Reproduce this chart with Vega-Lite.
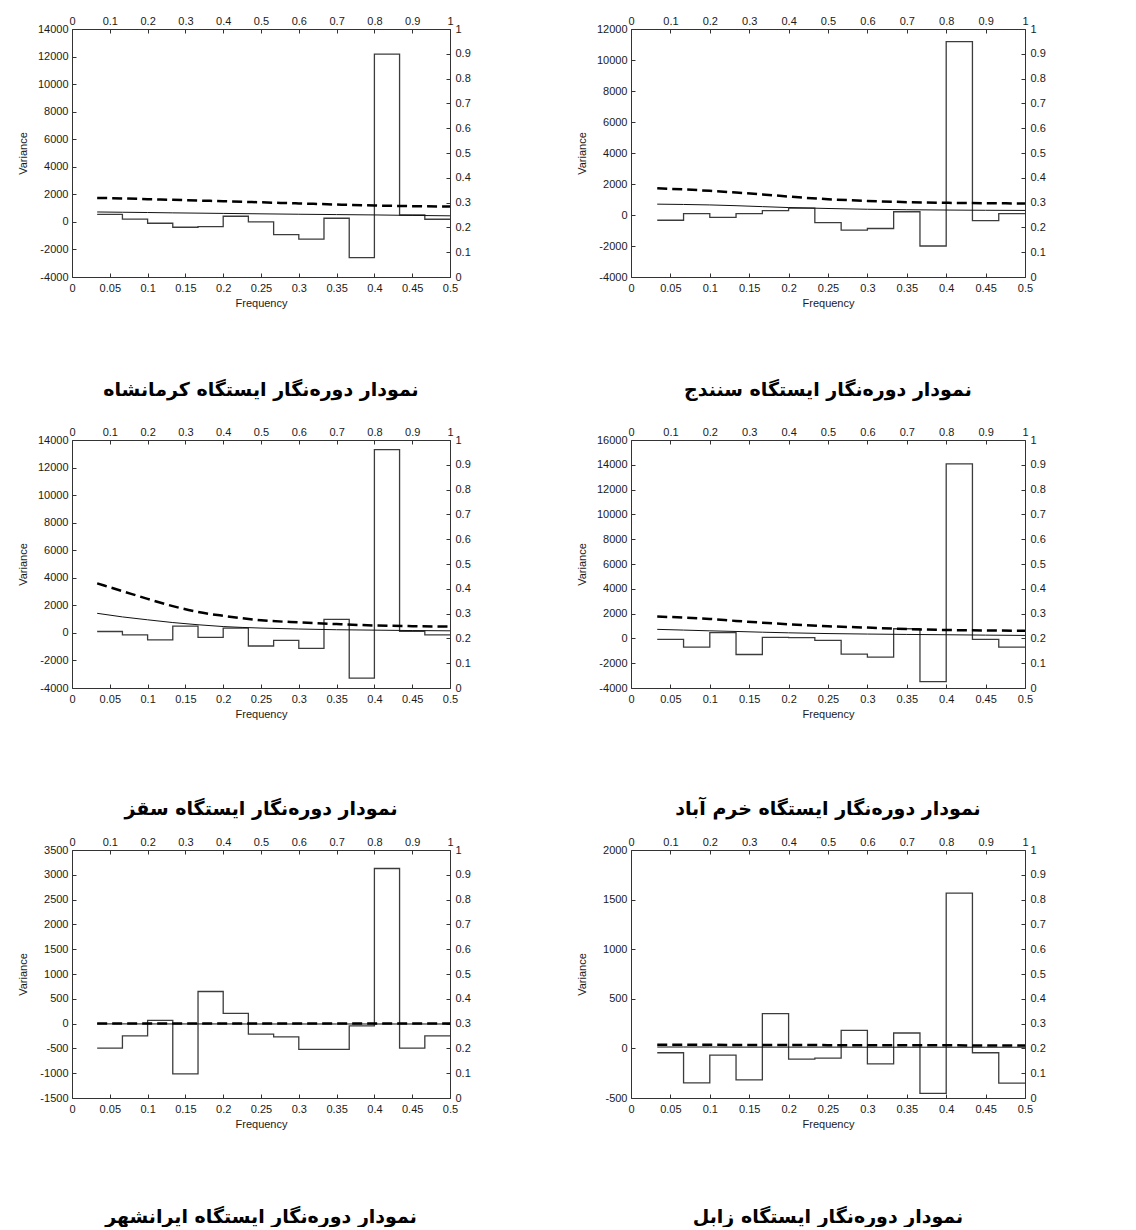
{
  "$schema": "https://vega.github.io/schema/vega-lite/v6.json",
  "background": "white",
  "padding": {"left": 17, "top": 15, "right": 0, "bottom": 0},
  "datasets": {
    "unit": [{"t": 0}, {"t": 1}],
    "periodogram": [
      {"station": "Kermanshah", "f": 0.0333, "v": 540},
      {"station": "Kermanshah", "f": 0.0667, "v": 200},
      {"station": "Kermanshah", "f": 0.1, "v": -100},
      {"station": "Kermanshah", "f": 0.1333, "v": -390},
      {"station": "Kermanshah", "f": 0.1667, "v": -340},
      {"station": "Kermanshah", "f": 0.2, "v": 410},
      {"station": "Kermanshah", "f": 0.2333, "v": 0},
      {"station": "Kermanshah", "f": 0.2667, "v": -920},
      {"station": "Kermanshah", "f": 0.3, "v": -1250},
      {"station": "Kermanshah", "f": 0.3333, "v": 265},
      {"station": "Kermanshah", "f": 0.3667, "v": -2600},
      {"station": "Kermanshah", "f": 0.4, "v": 12170},
      {"station": "Kermanshah", "f": 0.4333, "v": 500},
      {"station": "Kermanshah", "f": 0.4667, "v": 190},
      {"station": "Kermanshah", "f": 0.5, "v": 190},
      {"station": "Sanandaj", "f": 0.0333, "v": -340},
      {"station": "Sanandaj", "f": 0.0667, "v": 85},
      {"station": "Sanandaj", "f": 0.1, "v": -150},
      {"station": "Sanandaj", "f": 0.1333, "v": 85},
      {"station": "Sanandaj", "f": 0.1667, "v": 280},
      {"station": "Sanandaj", "f": 0.2, "v": 450},
      {"station": "Sanandaj", "f": 0.2333, "v": -490},
      {"station": "Sanandaj", "f": 0.2667, "v": -980},
      {"station": "Sanandaj", "f": 0.3, "v": -870},
      {"station": "Sanandaj", "f": 0.3333, "v": 210},
      {"station": "Sanandaj", "f": 0.3667, "v": -2000},
      {"station": "Sanandaj", "f": 0.4, "v": 11180},
      {"station": "Sanandaj", "f": 0.4333, "v": -360},
      {"station": "Sanandaj", "f": 0.4667, "v": 85},
      {"station": "Sanandaj", "f": 0.5, "v": 85},
      {"station": "Saqqez", "f": 0.0333, "v": 100},
      {"station": "Saqqez", "f": 0.0667, "v": -150},
      {"station": "Saqqez", "f": 0.1, "v": -510},
      {"station": "Saqqez", "f": 0.1333, "v": 490},
      {"station": "Saqqez", "f": 0.1667, "v": -320},
      {"station": "Saqqez", "f": 0.2, "v": 340},
      {"station": "Saqqez", "f": 0.2333, "v": -950},
      {"station": "Saqqez", "f": 0.2667, "v": -540},
      {"station": "Saqqez", "f": 0.3, "v": -1120},
      {"station": "Saqqez", "f": 0.3333, "v": 980},
      {"station": "Saqqez", "f": 0.3667, "v": -3290},
      {"station": "Saqqez", "f": 0.4, "v": 13300},
      {"station": "Saqqez", "f": 0.4333, "v": 120},
      {"station": "Saqqez", "f": 0.4667, "v": -150},
      {"station": "Saqqez", "f": 0.5, "v": -150},
      {"station": "Khorramabad", "f": 0.0333, "v": -80},
      {"station": "Khorramabad", "f": 0.0667, "v": -700},
      {"station": "Khorramabad", "f": 0.1, "v": 460},
      {"station": "Khorramabad", "f": 0.1333, "v": -1300},
      {"station": "Khorramabad", "f": 0.1667, "v": 80},
      {"station": "Khorramabad", "f": 0.2, "v": 55},
      {"station": "Khorramabad", "f": 0.2333, "v": -160},
      {"station": "Khorramabad", "f": 0.2667, "v": -1270},
      {"station": "Khorramabad", "f": 0.3, "v": -1510},
      {"station": "Khorramabad", "f": 0.3333, "v": 780},
      {"station": "Khorramabad", "f": 0.3667, "v": -3480},
      {"station": "Khorramabad", "f": 0.4, "v": 14070},
      {"station": "Khorramabad", "f": 0.4333, "v": -80},
      {"station": "Khorramabad", "f": 0.4667, "v": -700},
      {"station": "Khorramabad", "f": 0.5, "v": -700},
      {"station": "Iranshahr", "f": 0.0333, "v": -495},
      {"station": "Iranshahr", "f": 0.0667, "v": -247},
      {"station": "Iranshahr", "f": 0.1, "v": 67},
      {"station": "Iranshahr", "f": 0.1333, "v": -1015},
      {"station": "Iranshahr", "f": 0.1667, "v": 647},
      {"station": "Iranshahr", "f": 0.2, "v": 207},
      {"station": "Iranshahr", "f": 0.2333, "v": -213},
      {"station": "Iranshahr", "f": 0.2667, "v": -267},
      {"station": "Iranshahr", "f": 0.3, "v": -520},
      {"station": "Iranshahr", "f": 0.3333, "v": -520},
      {"station": "Iranshahr", "f": 0.3667, "v": -45},
      {"station": "Iranshahr", "f": 0.4, "v": 3127},
      {"station": "Iranshahr", "f": 0.4333, "v": -495},
      {"station": "Iranshahr", "f": 0.4667, "v": -247},
      {"station": "Iranshahr", "f": 0.5, "v": -247},
      {"station": "Zabol", "f": 0.0333, "v": -44},
      {"station": "Zabol", "f": 0.0667, "v": -348},
      {"station": "Zabol", "f": 0.1, "v": -68},
      {"station": "Zabol", "f": 0.1333, "v": -318},
      {"station": "Zabol", "f": 0.1667, "v": 351},
      {"station": "Zabol", "f": 0.2, "v": -108},
      {"station": "Zabol", "f": 0.2333, "v": -98},
      {"station": "Zabol", "f": 0.2667, "v": 182},
      {"station": "Zabol", "f": 0.3, "v": -155},
      {"station": "Zabol", "f": 0.3333, "v": 155},
      {"station": "Zabol", "f": 0.3667, "v": -453},
      {"station": "Zabol", "f": 0.4, "v": 1565},
      {"station": "Zabol", "f": 0.4333, "v": -44},
      {"station": "Zabol", "f": 0.4667, "v": -351},
      {"station": "Zabol", "f": 0.5, "v": -351}
    ],
    "rednoise": [
      {"station": "Kermanshah", "f": 0.0333, "v": 720},
      {"station": "Kermanshah", "f": 0.0667, "v": 700},
      {"station": "Kermanshah", "f": 0.1, "v": 680},
      {"station": "Kermanshah", "f": 0.1333, "v": 655},
      {"station": "Kermanshah", "f": 0.1667, "v": 635},
      {"station": "Kermanshah", "f": 0.2, "v": 615},
      {"station": "Kermanshah", "f": 0.25, "v": 585},
      {"station": "Kermanshah", "f": 0.3, "v": 555},
      {"station": "Kermanshah", "f": 0.35, "v": 530},
      {"station": "Kermanshah", "f": 0.4, "v": 505},
      {"station": "Kermanshah", "f": 0.45, "v": 470},
      {"station": "Kermanshah", "f": 0.5, "v": 440},
      {"station": "Sanandaj", "f": 0.0333, "v": 700},
      {"station": "Sanandaj", "f": 0.0667, "v": 680},
      {"station": "Sanandaj", "f": 0.1, "v": 650},
      {"station": "Sanandaj", "f": 0.1333, "v": 600},
      {"station": "Sanandaj", "f": 0.1667, "v": 540},
      {"station": "Sanandaj", "f": 0.2, "v": 480},
      {"station": "Sanandaj", "f": 0.25, "v": 420},
      {"station": "Sanandaj", "f": 0.3, "v": 370},
      {"station": "Sanandaj", "f": 0.35, "v": 340},
      {"station": "Sanandaj", "f": 0.4, "v": 320},
      {"station": "Sanandaj", "f": 0.45, "v": 305},
      {"station": "Sanandaj", "f": 0.5, "v": 295},
      {"station": "Saqqez", "f": 0.0333, "v": 1420},
      {"station": "Saqqez", "f": 0.0667, "v": 1160},
      {"station": "Saqqez", "f": 0.1, "v": 950},
      {"station": "Saqqez", "f": 0.1333, "v": 750},
      {"station": "Saqqez", "f": 0.1667, "v": 590},
      {"station": "Saqqez", "f": 0.2, "v": 460},
      {"station": "Saqqez", "f": 0.25, "v": 350},
      {"station": "Saqqez", "f": 0.3, "v": 280},
      {"station": "Saqqez", "f": 0.35, "v": 230},
      {"station": "Saqqez", "f": 0.4, "v": 200},
      {"station": "Saqqez", "f": 0.45, "v": 170},
      {"station": "Saqqez", "f": 0.5, "v": 150},
      {"station": "Khorramabad", "f": 0.0333, "v": 730},
      {"station": "Khorramabad", "f": 0.0667, "v": 670},
      {"station": "Khorramabad", "f": 0.1, "v": 610},
      {"station": "Khorramabad", "f": 0.1333, "v": 560},
      {"station": "Khorramabad", "f": 0.1667, "v": 500},
      {"station": "Khorramabad", "f": 0.2, "v": 450},
      {"station": "Khorramabad", "f": 0.25, "v": 390},
      {"station": "Khorramabad", "f": 0.3, "v": 350},
      {"station": "Khorramabad", "f": 0.35, "v": 320},
      {"station": "Khorramabad", "f": 0.4, "v": 295},
      {"station": "Khorramabad", "f": 0.45, "v": 265},
      {"station": "Khorramabad", "f": 0.5, "v": 240},
      {"station": "Iranshahr", "f": 0.0333, "v": -6},
      {"station": "Iranshahr", "f": 0.0667, "v": -6},
      {"station": "Iranshahr", "f": 0.1, "v": -7},
      {"station": "Iranshahr", "f": 0.1333, "v": -7},
      {"station": "Iranshahr", "f": 0.1667, "v": -7},
      {"station": "Iranshahr", "f": 0.2, "v": -7},
      {"station": "Iranshahr", "f": 0.25, "v": -8},
      {"station": "Iranshahr", "f": 0.3, "v": -8},
      {"station": "Iranshahr", "f": 0.35, "v": -8},
      {"station": "Iranshahr", "f": 0.4, "v": -8},
      {"station": "Iranshahr", "f": 0.45, "v": -8},
      {"station": "Iranshahr", "f": 0.5, "v": -8},
      {"station": "Zabol", "f": 0.0333, "v": 14},
      {"station": "Zabol", "f": 0.0667, "v": 14},
      {"station": "Zabol", "f": 0.1, "v": 14},
      {"station": "Zabol", "f": 0.1333, "v": 13},
      {"station": "Zabol", "f": 0.1667, "v": 13},
      {"station": "Zabol", "f": 0.2, "v": 13},
      {"station": "Zabol", "f": 0.25, "v": 13},
      {"station": "Zabol", "f": 0.3, "v": 12},
      {"station": "Zabol", "f": 0.35, "v": 12},
      {"station": "Zabol", "f": 0.4, "v": 12},
      {"station": "Zabol", "f": 0.45, "v": 12},
      {"station": "Zabol", "f": 0.5, "v": 12}
    ],
    "confidence": [
      {"station": "Kermanshah", "f": 0.0333, "v": 1740},
      {"station": "Kermanshah", "f": 0.0667, "v": 1700},
      {"station": "Kermanshah", "f": 0.1, "v": 1650},
      {"station": "Kermanshah", "f": 0.1333, "v": 1600},
      {"station": "Kermanshah", "f": 0.1667, "v": 1550},
      {"station": "Kermanshah", "f": 0.2, "v": 1500},
      {"station": "Kermanshah", "f": 0.25, "v": 1420},
      {"station": "Kermanshah", "f": 0.3, "v": 1340},
      {"station": "Kermanshah", "f": 0.35, "v": 1260},
      {"station": "Kermanshah", "f": 0.4, "v": 1190},
      {"station": "Kermanshah", "f": 0.45, "v": 1140},
      {"station": "Kermanshah", "f": 0.5, "v": 1110},
      {"station": "Sanandaj", "f": 0.0333, "v": 1725},
      {"station": "Sanandaj", "f": 0.0667, "v": 1650},
      {"station": "Sanandaj", "f": 0.1, "v": 1560},
      {"station": "Sanandaj", "f": 0.1333, "v": 1450},
      {"station": "Sanandaj", "f": 0.1667, "v": 1330},
      {"station": "Sanandaj", "f": 0.2, "v": 1190},
      {"station": "Sanandaj", "f": 0.25, "v": 1020},
      {"station": "Sanandaj", "f": 0.3, "v": 910},
      {"station": "Sanandaj", "f": 0.35, "v": 830},
      {"station": "Sanandaj", "f": 0.4, "v": 785},
      {"station": "Sanandaj", "f": 0.45, "v": 760},
      {"station": "Sanandaj", "f": 0.5, "v": 745},
      {"station": "Saqqez", "f": 0.0333, "v": 3590},
      {"station": "Saqqez", "f": 0.0667, "v": 3030},
      {"station": "Saqqez", "f": 0.1, "v": 2470},
      {"station": "Saqqez", "f": 0.1333, "v": 1940},
      {"station": "Saqqez", "f": 0.1667, "v": 1520},
      {"station": "Saqqez", "f": 0.2, "v": 1240},
      {"station": "Saqqez", "f": 0.25, "v": 920},
      {"station": "Saqqez", "f": 0.3, "v": 760},
      {"station": "Saqqez", "f": 0.35, "v": 640},
      {"station": "Saqqez", "f": 0.4, "v": 540},
      {"station": "Saqqez", "f": 0.45, "v": 490},
      {"station": "Saqqez", "f": 0.5, "v": 460},
      {"station": "Khorramabad", "f": 0.0333, "v": 1760},
      {"station": "Khorramabad", "f": 0.0667, "v": 1680},
      {"station": "Khorramabad", "f": 0.1, "v": 1570},
      {"station": "Khorramabad", "f": 0.1333, "v": 1410},
      {"station": "Khorramabad", "f": 0.1667, "v": 1270},
      {"station": "Khorramabad", "f": 0.2, "v": 1140},
      {"station": "Khorramabad", "f": 0.25, "v": 980},
      {"station": "Khorramabad", "f": 0.3, "v": 870},
      {"station": "Khorramabad", "f": 0.35, "v": 760},
      {"station": "Khorramabad", "f": 0.4, "v": 680},
      {"station": "Khorramabad", "f": 0.45, "v": 640},
      {"station": "Khorramabad", "f": 0.5, "v": 620},
      {"station": "Iranshahr", "f": 0.0333, "v": 4},
      {"station": "Iranshahr", "f": 0.0667, "v": 4},
      {"station": "Iranshahr", "f": 0.1, "v": 3},
      {"station": "Iranshahr", "f": 0.1333, "v": 3},
      {"station": "Iranshahr", "f": 0.1667, "v": 3},
      {"station": "Iranshahr", "f": 0.2, "v": 3},
      {"station": "Iranshahr", "f": 0.25, "v": 2},
      {"station": "Iranshahr", "f": 0.3, "v": 2},
      {"station": "Iranshahr", "f": 0.35, "v": 2},
      {"station": "Iranshahr", "f": 0.4, "v": 2},
      {"station": "Iranshahr", "f": 0.45, "v": 2},
      {"station": "Iranshahr", "f": 0.5, "v": 2},
      {"station": "Zabol", "f": 0.0333, "v": 37},
      {"station": "Zabol", "f": 0.0667, "v": 37},
      {"station": "Zabol", "f": 0.1, "v": 36},
      {"station": "Zabol", "f": 0.1333, "v": 35},
      {"station": "Zabol", "f": 0.1667, "v": 34},
      {"station": "Zabol", "f": 0.2, "v": 34},
      {"station": "Zabol", "f": 0.25, "v": 33},
      {"station": "Zabol", "f": 0.3, "v": 32},
      {"station": "Zabol", "f": 0.35, "v": 31},
      {"station": "Zabol", "f": 0.4, "v": 31},
      {"station": "Zabol", "f": 0.45, "v": 30},
      {"station": "Zabol", "f": 0.5, "v": 30}
    ]
  },
  "spacing": 26,
  "vconcat": [
    {
      "spacing": 104,
      "hconcat": [
        {
          "width": 378, "height": 248,
          "title": {"text": "نمودار دوره\u200cنگار ایستگاه کرمانشاه", "offset": 73},
          "layer": [
            {
              "encoding": {
                "x": {"field": "f", "type": "quantitative", "scale": {"domain": [0, 0.5], "nice": false, "zero": false},
                      "axis": {"orient": "bottom", "title": "Frequency", "values": [0, 0.05, 0.1, 0.15, 0.2, 0.25, 0.3, 0.35, 0.4, 0.45, 0.5], "labelExpr": "'' + datum.value"}},
                "y": {"field": "v", "type": "quantitative", "scale": {"domain": [-4000, 14000], "nice": false, "zero": false},
                      "axis": {"orient": "left", "title": "Variance", "values": [-4000, -2000, 0, 2000, 4000, 6000, 8000, 10000, 12000, 14000], "labelExpr": "'' + datum.value"}}
              },
              "layer": [
                {"data": {"name": "periodogram"}, "transform": [{"filter": "datum.station === 'Kermanshah'"}], "mark": {"type": "line", "interpolate": "step-after", "stroke": "#3c3c3c", "strokeWidth": 1.3}},
                {"data": {"name": "rednoise"}, "transform": [{"filter": "datum.station === 'Kermanshah'"}], "mark": {"type": "line", "interpolate": "monotone", "stroke": "#111111", "strokeWidth": 1}},
                {"data": {"name": "confidence"}, "transform": [{"filter": "datum.station === 'Kermanshah'"}], "mark": {"type": "line", "interpolate": "monotone", "stroke": "#000000", "strokeWidth": 2.5, "strokeDash": [10, 5]}}
              ]
            },
            {
              "data": {"name": "unit"},
              "mark": {"type": "point", "opacity": 0},
              "encoding": {
                "x": {"field": "t", "type": "quantitative", "scale": {"domain": [0, 1], "nice": false}, "axis": {"orient": "top", "title": null, "values": [0, 0.1, 0.2, 0.3, 0.4, 0.5, 0.6, 0.7, 0.8, 0.9, 1], "labelExpr": "'' + datum.value"}},
                "y": {"field": "t", "type": "quantitative", "scale": {"domain": [0, 1], "nice": false}, "axis": {"orient": "right", "title": null, "values": [0, 0.1, 0.2, 0.3, 0.4, 0.5, 0.6, 0.7, 0.8, 0.9, 1], "labelExpr": "'' + datum.value"}}
              }
            }
          ],
          "resolve": {"scale": {"x": "independent", "y": "independent"}}
        },
        {
          "width": 394, "height": 248,
          "title": {"text": "نمودار دوره\u200cنگار ایستگاه سنندج", "offset": 73},
          "layer": [
            {
              "encoding": {
                "x": {"field": "f", "type": "quantitative", "scale": {"domain": [0, 0.5], "nice": false, "zero": false},
                      "axis": {"orient": "bottom", "title": "Frequency", "values": [0, 0.05, 0.1, 0.15, 0.2, 0.25, 0.3, 0.35, 0.4, 0.45, 0.5], "labelExpr": "'' + datum.value"}},
                "y": {"field": "v", "type": "quantitative", "scale": {"domain": [-4000, 12000], "nice": false, "zero": false},
                      "axis": {"orient": "left", "title": "Variance", "values": [-4000, -2000, 0, 2000, 4000, 6000, 8000, 10000, 12000], "labelExpr": "'' + datum.value"}}
              },
              "layer": [
                {"data": {"name": "periodogram"}, "transform": [{"filter": "datum.station === 'Sanandaj'"}], "mark": {"type": "line", "interpolate": "step-after", "stroke": "#3c3c3c", "strokeWidth": 1.3}},
                {"data": {"name": "rednoise"}, "transform": [{"filter": "datum.station === 'Sanandaj'"}], "mark": {"type": "line", "interpolate": "monotone", "stroke": "#111111", "strokeWidth": 1}},
                {"data": {"name": "confidence"}, "transform": [{"filter": "datum.station === 'Sanandaj'"}], "mark": {"type": "line", "interpolate": "monotone", "stroke": "#000000", "strokeWidth": 2.5, "strokeDash": [10, 5]}}
              ]
            },
            {
              "data": {"name": "unit"},
              "mark": {"type": "point", "opacity": 0},
              "encoding": {
                "x": {"field": "t", "type": "quantitative", "scale": {"domain": [0, 1], "nice": false}, "axis": {"orient": "top", "title": null, "values": [0, 0.1, 0.2, 0.3, 0.4, 0.5, 0.6, 0.7, 0.8, 0.9, 1], "labelExpr": "'' + datum.value"}},
                "y": {"field": "t", "type": "quantitative", "scale": {"domain": [0, 1], "nice": false}, "axis": {"orient": "right", "title": null, "values": [0, 0.1, 0.2, 0.3, 0.4, 0.5, 0.6, 0.7, 0.8, 0.9, 1], "labelExpr": "'' + datum.value"}}
              }
            }
          ],
          "resolve": {"scale": {"x": "independent", "y": "independent"}}
        }
      ]
    },
    {
      "spacing": 17,
      "vconcat": [
        {
          "spacing": 104,
          "hconcat": [
            {
              "width": 378, "height": 248,
              "title": {"text": "نمودار دوره\u200cنگار ایستگاه سقز", "offset": 81},
              "layer": [
                {
                  "encoding": {
                    "x": {"field": "f", "type": "quantitative", "scale": {"domain": [0, 0.5], "nice": false, "zero": false},
                          "axis": {"orient": "bottom", "title": "Frequency", "values": [0, 0.05, 0.1, 0.15, 0.2, 0.25, 0.3, 0.35, 0.4, 0.45, 0.5], "labelExpr": "'' + datum.value"}},
                    "y": {"field": "v", "type": "quantitative", "scale": {"domain": [-4000, 14000], "nice": false, "zero": false},
                          "axis": {"orient": "left", "title": "Variance", "values": [-4000, -2000, 0, 2000, 4000, 6000, 8000, 10000, 12000, 14000], "labelExpr": "'' + datum.value"}}
                  },
                  "layer": [
                    {"data": {"name": "periodogram"}, "transform": [{"filter": "datum.station === 'Saqqez'"}], "mark": {"type": "line", "interpolate": "step-after", "stroke": "#3c3c3c", "strokeWidth": 1.3}},
                    {"data": {"name": "rednoise"}, "transform": [{"filter": "datum.station === 'Saqqez'"}], "mark": {"type": "line", "interpolate": "monotone", "stroke": "#111111", "strokeWidth": 1}},
                    {"data": {"name": "confidence"}, "transform": [{"filter": "datum.station === 'Saqqez'"}], "mark": {"type": "line", "interpolate": "monotone", "stroke": "#000000", "strokeWidth": 2.5, "strokeDash": [10, 5]}}
                  ]
                },
                {
                  "data": {"name": "unit"},
                  "mark": {"type": "point", "opacity": 0},
                  "encoding": {
                    "x": {"field": "t", "type": "quantitative", "scale": {"domain": [0, 1], "nice": false}, "axis": {"orient": "top", "title": null, "values": [0, 0.1, 0.2, 0.3, 0.4, 0.5, 0.6, 0.7, 0.8, 0.9, 1], "labelExpr": "'' + datum.value"}},
                    "y": {"field": "t", "type": "quantitative", "scale": {"domain": [0, 1], "nice": false}, "axis": {"orient": "right", "title": null, "values": [0, 0.1, 0.2, 0.3, 0.4, 0.5, 0.6, 0.7, 0.8, 0.9, 1], "labelExpr": "'' + datum.value"}}
                  }
                }
              ],
              "resolve": {"scale": {"x": "independent", "y": "independent"}}
            },
            {
              "width": 394, "height": 248,
              "title": {"text": "نمودار دوره\u200cنگار ایستگاه خرم آباد", "offset": 81},
              "layer": [
                {
                  "encoding": {
                    "x": {"field": "f", "type": "quantitative", "scale": {"domain": [0, 0.5], "nice": false, "zero": false},
                          "axis": {"orient": "bottom", "title": "Frequency", "values": [0, 0.05, 0.1, 0.15, 0.2, 0.25, 0.3, 0.35, 0.4, 0.45, 0.5], "labelExpr": "'' + datum.value"}},
                    "y": {"field": "v", "type": "quantitative", "scale": {"domain": [-4000, 16000], "nice": false, "zero": false},
                          "axis": {"orient": "left", "title": "Variance", "values": [-4000, -2000, 0, 2000, 4000, 6000, 8000, 10000, 12000, 14000, 16000], "labelExpr": "'' + datum.value"}}
                  },
                  "layer": [
                    {"data": {"name": "periodogram"}, "transform": [{"filter": "datum.station === 'Khorramabad'"}], "mark": {"type": "line", "interpolate": "step-after", "stroke": "#3c3c3c", "strokeWidth": 1.3}},
                    {"data": {"name": "rednoise"}, "transform": [{"filter": "datum.station === 'Khorramabad'"}], "mark": {"type": "line", "interpolate": "monotone", "stroke": "#111111", "strokeWidth": 1}},
                    {"data": {"name": "confidence"}, "transform": [{"filter": "datum.station === 'Khorramabad'"}], "mark": {"type": "line", "interpolate": "monotone", "stroke": "#000000", "strokeWidth": 2.5, "strokeDash": [10, 5]}}
                  ]
                },
                {
                  "data": {"name": "unit"},
                  "mark": {"type": "point", "opacity": 0},
                  "encoding": {
                    "x": {"field": "t", "type": "quantitative", "scale": {"domain": [0, 1], "nice": false}, "axis": {"orient": "top", "title": null, "values": [0, 0.1, 0.2, 0.3, 0.4, 0.5, 0.6, 0.7, 0.8, 0.9, 1], "labelExpr": "'' + datum.value"}},
                    "y": {"field": "t", "type": "quantitative", "scale": {"domain": [0, 1], "nice": false}, "axis": {"orient": "right", "title": null, "values": [0, 0.1, 0.2, 0.3, 0.4, 0.5, 0.6, 0.7, 0.8, 0.9, 1], "labelExpr": "'' + datum.value"}}
                  }
                }
              ],
              "resolve": {"scale": {"x": "independent", "y": "independent"}}
            }
          ]
        },
        {
          "spacing": 104,
          "hconcat": [
            {
              "width": 378, "height": 248,
              "title": {"text": "نمودار دوره\u200cنگار ایستگاه ایرانشهر", "offset": 79},
              "layer": [
                {
                  "encoding": {
                    "x": {"field": "f", "type": "quantitative", "scale": {"domain": [0, 0.5], "nice": false, "zero": false},
                          "axis": {"orient": "bottom", "title": "Frequency", "values": [0, 0.05, 0.1, 0.15, 0.2, 0.25, 0.3, 0.35, 0.4, 0.45, 0.5], "labelExpr": "'' + datum.value"}},
                    "y": {"field": "v", "type": "quantitative", "scale": {"domain": [-1500, 3500], "nice": false, "zero": false},
                          "axis": {"orient": "left", "title": "Variance", "values": [-1500, -1000, -500, 0, 500, 1000, 1500, 2000, 2500, 3000, 3500], "labelExpr": "'' + datum.value"}}
                  },
                  "layer": [
                    {"data": {"name": "periodogram"}, "transform": [{"filter": "datum.station === 'Iranshahr'"}], "mark": {"type": "line", "interpolate": "step-after", "stroke": "#3c3c3c", "strokeWidth": 1.3}},
                    {"data": {"name": "rednoise"}, "transform": [{"filter": "datum.station === 'Iranshahr'"}], "mark": {"type": "line", "interpolate": "monotone", "stroke": "#111111", "strokeWidth": 1}},
                    {"data": {"name": "confidence"}, "transform": [{"filter": "datum.station === 'Iranshahr'"}], "mark": {"type": "line", "interpolate": "monotone", "stroke": "#000000", "strokeWidth": 2.5, "strokeDash": [10, 5]}}
                  ]
                },
                {
                  "data": {"name": "unit"},
                  "mark": {"type": "point", "opacity": 0},
                  "encoding": {
                    "x": {"field": "t", "type": "quantitative", "scale": {"domain": [0, 1], "nice": false}, "axis": {"orient": "top", "title": null, "values": [0, 0.1, 0.2, 0.3, 0.4, 0.5, 0.6, 0.7, 0.8, 0.9, 1], "labelExpr": "'' + datum.value"}},
                    "y": {"field": "t", "type": "quantitative", "scale": {"domain": [0, 1], "nice": false}, "axis": {"orient": "right", "title": null, "values": [0, 0.1, 0.2, 0.3, 0.4, 0.5, 0.6, 0.7, 0.8, 0.9, 1], "labelExpr": "'' + datum.value"}}
                  }
                }
              ],
              "resolve": {"scale": {"x": "independent", "y": "independent"}}
            },
            {
              "width": 394, "height": 248,
              "title": {"text": "نمودار دوره\u200cنگار ایستگاه زابل", "offset": 79},
              "layer": [
                {
                  "encoding": {
                    "x": {"field": "f", "type": "quantitative", "scale": {"domain": [0, 0.5], "nice": false, "zero": false},
                          "axis": {"orient": "bottom", "title": "Frequency", "values": [0, 0.05, 0.1, 0.15, 0.2, 0.25, 0.3, 0.35, 0.4, 0.45, 0.5], "labelExpr": "'' + datum.value"}},
                    "y": {"field": "v", "type": "quantitative", "scale": {"domain": [-500, 2000], "nice": false, "zero": false},
                          "axis": {"orient": "left", "title": "Variance", "values": [-500, 0, 500, 1000, 1500, 2000], "labelExpr": "'' + datum.value"}}
                  },
                  "layer": [
                    {"data": {"name": "periodogram"}, "transform": [{"filter": "datum.station === 'Zabol'"}], "mark": {"type": "line", "interpolate": "step-after", "stroke": "#3c3c3c", "strokeWidth": 1.3}},
                    {"data": {"name": "rednoise"}, "transform": [{"filter": "datum.station === 'Zabol'"}], "mark": {"type": "line", "interpolate": "monotone", "stroke": "#111111", "strokeWidth": 1}},
                    {"data": {"name": "confidence"}, "transform": [{"filter": "datum.station === 'Zabol'"}], "mark": {"type": "line", "interpolate": "monotone", "stroke": "#000000", "strokeWidth": 2.5, "strokeDash": [10, 5]}}
                  ]
                },
                {
                  "data": {"name": "unit"},
                  "mark": {"type": "point", "opacity": 0},
                  "encoding": {
                    "x": {"field": "t", "type": "quantitative", "scale": {"domain": [0, 1], "nice": false}, "axis": {"orient": "top", "title": null, "values": [0, 0.1, 0.2, 0.3, 0.4, 0.5, 0.6, 0.7, 0.8, 0.9, 1], "labelExpr": "'' + datum.value"}},
                    "y": {"field": "t", "type": "quantitative", "scale": {"domain": [0, 1], "nice": false}, "axis": {"orient": "right", "title": null, "values": [0, 0.1, 0.2, 0.3, 0.4, 0.5, 0.6, 0.7, 0.8, 0.9, 1], "labelExpr": "'' + datum.value"}}
                  }
                }
              ],
              "resolve": {"scale": {"x": "independent", "y": "independent"}}
            }
          ]
        }
      ]
    }
  ],
  "config": {
    "view": {"stroke": null},
    "concat": {"spacing": 104},
    "title": {"orient": "bottom", "anchor": "middle", "baseline": "top", "font": "DejaVu Sans", "fontSize": 19, "fontWeight": "bold", "color": "#000000"},
    "axis": {
      "labelFont": "Liberation Sans", "labelFontSize": 11, "labelColor": "#1a1a1a",
      "titleFont": "Liberation Sans", "titleFontSize": 11, "titleFontWeight": "normal", "titleColor": "#1a1a1a",
      "domainColor": "#333333", "domainWidth": 1, "tickColor": "#333333", "tickSize": -4, "labelPadding": 7,
      "grid": false, "labelFlush": false, "labelOverlap": false
    },
    "axisLeft": {"minExtent": 38, "maxExtent": 38, "titlePadding": 6, "labelPadding": 8},
    "axisRight": {"minExtent": 22, "maxExtent": 22, "labelPadding": 9},
    "axisTop": {"minExtent": 13, "maxExtent": 13},
    "axisBottom": {"minExtent": 16, "maxExtent": 16, "titlePadding": 4, "labelPadding": 9}
  }
}
